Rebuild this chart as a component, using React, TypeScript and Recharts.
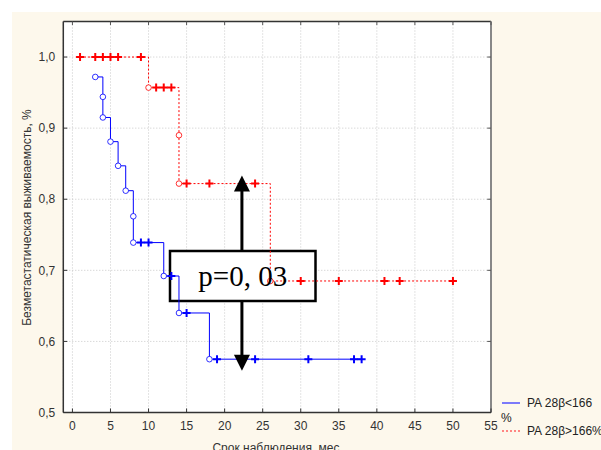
import React from "react";
import {
  ComposedChart,
  Line,
  XAxis,
  YAxis,
  CartesianGrid,
  ReferenceLine,
  ReferenceArea,
  ReferenceDot,
  Legend,
} from "recharts";

// time (months), survival, mark: e = event (circle), c = censored (cross)
const blueTime = [3, 4, 4, 5, 6, 7, 8, 8, 9, 10, 12, 13, 14, 15, 18, 19, 24, 31, 37, 38];
const blueSurv = [0.972, 0.944, 0.915, 0.881, 0.847, 0.812, 0.776, 0.739, 0.739, 0.739, 0.692, 0.692, 0.64, 0.64, 0.575, 0.575, 0.575, 0.575, 0.575, 0.575];
const blueMark = ["e", "e", "e", "e", "e", "e", "e", "e", "c", "c", "e", "c", "e", "c", "e", "c", "c", "c", "c", "c"];

const redTime = [1, 3, 4, 5, 6, 9, 10, 11, 12, 13, 14, 14, 15, 18, 24, 26, 30, 35, 41, 43, 50];
const redSurv = [1, 1, 1, 1, 1, 1, 0.957, 0.957, 0.957, 0.957, 0.89, 0.822, 0.822, 0.822, 0.822, 0.685, 0.685, 0.685, 0.685, 0.685, 0.685];
const redMark = ["c", "c", "c", "c", "c", "c", "e", "c", "c", "c", "e", "e", "c", "c", "c", "e", "c", "c", "c", "c", "c"];

const xTicks = [0, 5, 10, 15, 20, 25, 30, 35, 40, 45, 50, 55];
const yTicks = [0.5, 0.6, 0.7, 0.8, 0.9, 1.0];

const seriesNames = ["PA 28β<166", "PA 28β>166%"];
const pLabel = "p=0, 03";

const blueData = blueTime.map((t, i) => ({ t, s: blueSurv[i], m: blueMark[i] }));
const redData = redTime.map((t, i) => ({ t, s: redSurv[i], m: redMark[i] }));

const BLUE = "#0000ff";
const RED = "#ff0000";
const FONT = "'Liberation Sans', Arial, sans-serif";

const makeDot = (color: string) => (props: any) => {
  const { cx, cy, payload, index } = props;
  if (cx == null || cy == null) return <g key={index} />;
  if (payload.m === "e") {
    return <circle key={index} cx={cx} cy={cy} r={2.8} fill="#fff" stroke={color} strokeWidth={1} strokeOpacity={0.8} />;
  }
  return (
    <g key={index} stroke={color} strokeWidth={2}>
      <line x1={cx - 4} y1={cy} x2={cx + 4} y2={cy} />
      <line x1={cx} y1={cy - 4} x2={cx} y2={cy + 4} />
    </g>
  );
};

const arrowUp = (props: any) => {
  const { cx, cy } = props;
  return <path d={`M${cx},${cy} L${cx - 8},${cy + 16} L${cx + 8},${cy + 16} Z`} fill="#000" />;
};
const arrowDown = (props: any) => {
  const { cx, cy } = props;
  return <path d={`M${cx},${cy} L${cx - 8},${cy - 16} L${cx + 8},${cy - 16} Z`} fill="#000" />;
};

const LegendBox = (props: any) => {
  const payload = props.payload || [];
  return (
    <div style={{ position: "relative", width: 110, height: 50, fontFamily: FONT, fontSize: 12, color: "#222" }}>
      {payload.map((p: any, i: number) => (
        <div key={i} style={{ position: "absolute", left: 0, top: i === 0 ? 2 : 30, height: 14, display: "flex", alignItems: "center" }}>
          <svg width={26} height={14}>
            <line x1={7} y1={7} x2={25} y2={7} stroke={i === 0 ? "#5050ff" : "#ff6060"} strokeWidth={1.5} strokeDasharray={i === 0 ? undefined : "2 2"} />
          </svg>
          <span style={{ marginLeft: 6, whiteSpace: "nowrap" }}>{p.value}</span>
        </div>
      ))}
      <span style={{ position: "absolute", left: 6, top: 17 }}>%</span>
    </div>
  );
};

export default function App() {
  return (
    <div style={{ position: "fixed", left: 0, top: 0, width: 601, height: 450, background: "#fff", overflow: "hidden" }}>
      <div style={{ position: "absolute", left: 12, top: 12, right: 0, bottom: 0, background: "#fdf8ec" }} />
      <div style={{ position: "absolute", left: 0, top: 0 }}>
        <ComposedChart width={601} height={450} margin={{ top: 21.5, right: 110, bottom: 0, left: 0 }}>
          <CartesianGrid fill="#fff" stroke="#c8c8c8" strokeDasharray="1 2" />
          <XAxis
            dataKey="t"
            type="number"
            domain={[-1.2, 55]}
            ticks={xTicks}
            allowDataOverflow
            height={37.5}
            tickSize={-4}
            tickMargin={13}
            tick={{ fontSize: 12, fill: "#333", fontFamily: FONT }}
            stroke="#333"
            axisLine={{ stroke: "#333", strokeWidth: 1.5 }}
          />
          <YAxis
            type="number"
            domain={[0.5, 1.05]}
            ticks={yTicks}
            allowDataOverflow
            width={63.3}
            tickSize={-4}
            tickMargin={12}
            tickFormatter={(v: number) => v.toFixed(1).replace(".", ",")}
            tick={{ fontSize: 12, fill: "#333", fontFamily: FONT }}
            stroke="#333"
            axisLine={{ stroke: "#333", strokeWidth: 1.5 }}
          />
          <ReferenceLine y={1.05} stroke="#333" strokeWidth={1.5} />
          <ReferenceLine x={55} stroke="#888" strokeWidth={2} />
          {yTicks.map((v) => (
            <ReferenceLine key={v} segment={[{ x: 54.5, y: v }, { x: 55, y: v }]} stroke="#555" strokeWidth={1} />
          ))}
          {xTicks.map((v) => (
            <ReferenceLine key={"t" + v} segment={[{ x: v, y: 1.05 }, { x: v, y: 1.045 }]} stroke="#555" strokeWidth={1} />
          ))}
          <ReferenceArea
            x1={12.82}
            x2={31.94}
            y1={0.657}
            y2={0.727}
            fill="#fff"
            fillOpacity={1}
            stroke="#000"
            strokeWidth={2.5}
            zIndex={50}
            label={{ value: pLabel, position: "center", fontSize: 29, fill: "#000", fontFamily: "'Liberation Serif', 'Times New Roman', serif" }}
          />
          <Line
            data={blueData}
            dataKey="s"
            name={seriesNames[0]}
            type="stepAfter"
            stroke={BLUE}
            strokeWidth={1}
            dot={makeDot(BLUE)}
            activeDot={false}
            isAnimationActive={false}
          />
          <Line
            data={redData}
            dataKey="s"
            name={seriesNames[1]}
            type="stepAfter"
            stroke={RED}
            strokeWidth={1}
            strokeDasharray="2 2"
            dot={makeDot(RED)}
            activeDot={false}
            isAnimationActive={false}
          />
          <ReferenceLine segment={[{ x: 22.27, y: 0.727 }, { x: 22.27, y: 0.815 }]} stroke="#000" strokeWidth={3} />
          <ReferenceLine segment={[{ x: 22.27, y: 0.657 }, { x: 22.27, y: 0.578 }]} stroke="#000" strokeWidth={3} />
          <ReferenceDot x={22.27} y={0.8333} shape={arrowUp} />
          <ReferenceDot x={22.27} y={0.5588} shape={arrowDown} />
          <Legend
            layout="vertical"
            verticalAlign="middle"
            align="center"
            content={<LegendBox />}
            wrapperStyle={{ left: 495, top: 394, width: 110, height: 50 }}
          />
          <text x={27} y={217.5} transform="rotate(-90 27 217.5)" textAnchor="middle" dominantBaseline="central" fontSize={12} fill="#333" fontFamily={FONT}>
            Безметастатическая выживаемость, %
          </text>
          <text x={276} y={452} textAnchor="middle" fontSize={12} fill="#333" fontFamily={FONT}>
            Срок наблюдения, мес
          </text>
        </ComposedChart>
      </div>
    </div>
  );
}
